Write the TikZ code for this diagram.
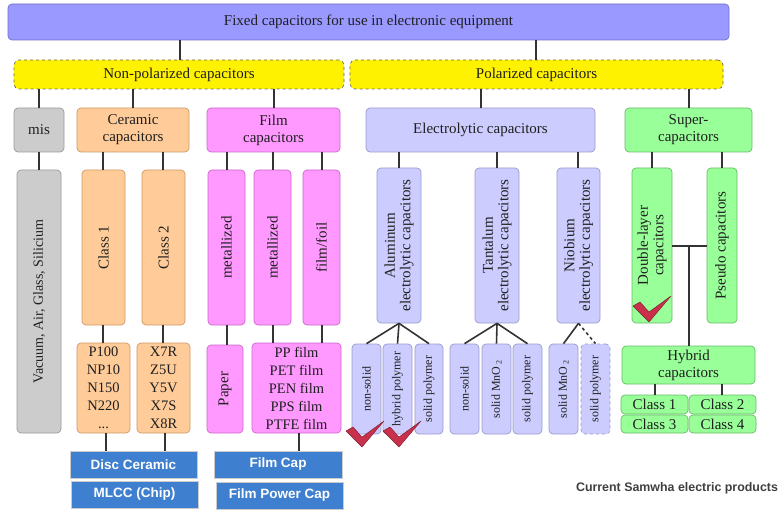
\documentclass[tikz,border=0pt]{standalone}
\usepackage{fontspec}
\setmainfont{Liberation Serif}
\setsansfont{Liberation Sans}
\definecolor{cTop}{HTML}{9999FF}\definecolor{cTopD}{HTML}{7070CC}
\definecolor{cGray}{HTML}{CCCCCC}\definecolor{cGrayD}{HTML}{999999}
\definecolor{cCer}{HTML}{FFCC99}\definecolor{cCerD}{HTML}{CC9966}
\definecolor{cFilm}{HTML}{FF99FF}\definecolor{cFilmD}{HTML}{CC66CC}
\definecolor{cEl}{HTML}{CCCCFF}\definecolor{cElD}{HTML}{9999CC}
\definecolor{cSup}{HTML}{99FF99}\definecolor{cSupD}{HTML}{66BB66}
\definecolor{cBlue}{HTML}{3F7FCF}
\definecolor{cRed}{HTML}{C8304C}
\newcommand\fs[2]{\fontsize{#1}{#2}\selectfont}
% horizontal box: name, style, x1,y1,x2,y2, text
\newcommand\bx[7]{%
  \pgfmathsetmacro\bxcx{(#3+#5)/2}\pgfmathsetmacro\bxcy{(#4+#6)/2}%
  \pgfmathsetmacro\bxww{#5-#3}\pgfmathsetmacro\bxhh{#6-#4}%
  \node[#2,minimum width=\bxww pt,minimum height=\bxhh pt] (#1) at (\bxcx,\bxcy) {#7};}
% vertical box with rotated text
\newcommand\vbx[8]{%
  \pgfmathsetmacro\bxcx{(#3+#5)/2}\pgfmathsetmacro\bxcy{(#4+#6)/2}%
  \pgfmathsetmacro\bxww{#5-#3}\pgfmathsetmacro\bxhh{#6-#4}%
  \node[#2,minimum width=\bxww pt,minimum height=\bxhh pt] (#1) at (\bxcx,\bxcy) {};
  \node[vtext,font=#8] (#1-t) at (#1.center) {#7};}
\newcommand\vl[3]{\draw[conn] (#1,0 |- #2.south) -- (#1,0 |- #3.north);}
\tikzset{
  box/.style={draw, rounded corners=4pt, inner sep=0pt, line width=0.7pt,
    text=black!88, font=\fs{15}{17}, align=center},
  topb/.style={box, fill=cTop, draw=cTopD},
  yel/.style={box, fill=yellow, draw=black!60, dashed, rounded corners=5pt},
  grayb/.style={box, fill=cGray, draw=cGrayD},
  cer/.style={box, fill=cCer, draw=cCerD},
  film/.style={box, fill=cFilm, draw=cFilmD},
  elec/.style={box, fill=cEl, draw=cElD},
  supb/.style={box, fill=cSup, draw=cSupD},
  lst/.style={font=\fs{14.5}{18}},
  blu/.style={fill=cBlue, draw=black!20, line width=0.6pt, inner sep=0pt,
    text=white, font=\sffamily\bfseries\fs{13.5}{15}},
  vtext/.style={rotate=90, inner sep=0pt, align=center, text=black!88},
  conn/.style={draw=black!80, line width=1.6pt},
  chk/.pic={\fill[cRed, draw=cRed!60!black, line width=0.4pt, line join=round]
    (0,0) -- (7,-4) -- (16,6) -- (38,-10) -- (16,16) -- cycle;}
}
\begin{document}
\begin{tikzpicture}[x=1pt,y=-1pt]
\useasboundingbox (0,0) rectangle (783,510);
% level 0-1
\bx{top}{topb}{8}{4}{729}{40}{Fixed capacitors for use in electronic equipment}
\bx{np}{yel}{14}{60}{344}{89}{Non-polarized capacitors}
\bx{pol}{yel}{350}{60}{723}{89}{Polarized capacitors}
% level 2
\bx{mis}{grayb}{14}{108}{64}{152}{mis}
\bx{cer}{cer}{77}{108}{189}{152}{Ceramic\\capacitors}
\bx{film}{film}{207}{108}{340}{152}{Film\\capacitors}
\bx{elec}{elec}{366}{108}{595}{152}{Electrolytic capacitors}
\bx{sup}{supb}{625}{108}{752}{152}{Super-\\capacitors}
% level 3
\vbx{vac}{grayb}{17}{170}{61}{433}{Vacuum, Air, Glass, Silicium}{\fs{14}{16}}
\vbx{cl1}{cer}{82}{170}{125}{325}{Class 1}{\fs{15}{17}}
\vbx{cl2}{cer}{142}{170}{185}{325}{Class 2}{\fs{15}{17}}
\vbx{met1}{film}{208}{170}{245}{325}{metallized}{\fs{15}{17}}
\vbx{met2}{film}{254}{170}{291}{325}{metallized}{\fs{15}{17}}
\vbx{foil}{film}{303}{170}{340}{325}{film/foil}{\fs{15}{17}}
\vbx{alu}{elec}{377}{168}{421}{323}{Aluminum\\electrolytic capacitors}{\fs{15}{15.5}}
\vbx{tan}{elec}{475}{168}{519}{323}{Tantalum\\electrolytic capacitors}{\fs{15}{15.5}}
\vbx{nio}{elec}{557}{168}{600}{323}{Niobium\\electrolytic capacitors}{\fs{15}{15.5}}
\vbx{dl}{supb}{632}{168}{672}{323}{Double-layer\\capacitors}{\fs{15}{15.5}}
\vbx{ps}{supb}{707}{168}{737}{323}{Pseudo capacitors}{\fs{15}{17}}
% level 4
\bx{p100}{cer,lst}{77}{343}{130}{433}{P100\\NP10\\N150\\N220\\...}
\bx{x7r}{cer,lst}{137}{343}{190}{433}{X7R\\Z5U\\Y5V\\X7S\\X8R}
\vbx{paper}{film}{207}{345}{243}{433}{Paper}{\fs{15}{17}}
\bx{pp}{film,lst}{252}{343}{341}{433}{PP film\\PET film\\PEN film\\PPS film\\PTFE film}
\vbx{ns1}{elec}{352}{344}{381}{434}{non-solid}{\fs{12}{13}}
\vbx{hp}{elec}{383}{344}{412}{434}{hybrid polymer}{\fs{12}{13}}
\vbx{sp1}{elec}{415}{344}{443}{434}{solid polymer}{\fs{12}{13}}
\vbx{ns2}{elec}{450}{344}{479}{434}{non-solid}{\fs{12}{13}}
\vbx{mno1}{elec}{482}{344}{511}{434}{solid MnO\,\textsubscript{2}}{\fs{12}{13}}
\vbx{sp2}{elec}{513}{344}{542}{434}{solid polymer}{\fs{12}{13}}
\vbx{mno2}{elec}{549}{344}{578}{434}{solid MnO\,\textsubscript{2}}{\fs{12}{13}}
\vbx{sp3}{elec,dashed}{581}{344}{610}{434}{solid polymer}{\fs{12}{13}}
\bx{hyb}{supb}{622}{346}{755}{384}{Hybrid\\capacitors}
\bx{c1}{supb}{621}{395}{688}{414}{Class 1}
\bx{c2}{supb}{689}{395}{756}{414}{Class 2}
\bx{c3}{supb}{621}{415}{688}{433}{Class 3}
\bx{c4}{supb}{689}{415}{756}{433}{Class 4}
% blue product boxes
\bx{disc}{blu}{70}{451}{197}{478}{Disc Ceramic}
\bx{mlcc}{blu}{71}{481}{198}{508}{MLCC (Chip)}
\bx{fcap}{blu}{214}{451}{342}{478}{Film Cap}
\bx{fpc}{blu}{216}{482}{343}{509}{Film Power Cap}
\node[font=\sffamily\bfseries\fs{12.4}{14},text=black!75,inner sep=0pt] (note) at (677,488) {Current Samwha electric products};
% connectors
\vl{180}{top}{np}\vl{536}{top}{pol}
\vl{39}{np}{mis}\vl{133}{np}{cer}\vl{274}{np}{film}
\vl{481}{pol}{elec}\vl{689}{pol}{sup}
\vl{39}{mis}{vac}
\vl{103}{cer}{cl1}\vl{163}{cer}{cl2}
\vl{227}{film}{met1}\vl{273}{film}{met2}\vl{322}{film}{foil}
\vl{103}{cl1}{p100}\vl{163}{cl2}{x7r}
\vl{227}{met1}{paper}\vl{273}{met2}{pp}\vl{322}{foil}{pp}
\vl{106}{p100}{disc}\vl{165}{x7r}{disc}\vl{299}{pp}{fcap}
\vl{399}{elec}{alu}\vl{497}{elec}{tan}\vl{578}{elec}{nio}
\vl{652}{sup}{dl}\vl{722}{sup}{ps}
\vl{655}{hyb}{c1}\vl{722}{hyb}{c2}
\draw[conn] (alu.south) -- (ns1.north);
\draw[conn] (alu.south) -- (hp.north);
\draw[conn] (alu.south) -- (sp1.north);
\draw[conn] (tan.south) -- (ns2.north);
\draw[conn] (tan.south) -- (mno1.north);
\draw[conn] (tan.south) -- (sp2.north);
\draw[conn] (nio.south) -- (mno2.north);
\draw[conn,dash pattern=on 3pt off 3pt] (nio.south) -- (sp3.north);
\coordinate (jn) at (689,246);
\draw[conn] (dl.east |- jn) -- (ps.west |- jn);
\draw[conn] (jn) -- (jn |- hyb.north);
% check marks
\pic at (346,431) {chk};
\pic at (383,431) {chk};
\pic at (633,306) {chk};
\end{tikzpicture}
\end{document}
